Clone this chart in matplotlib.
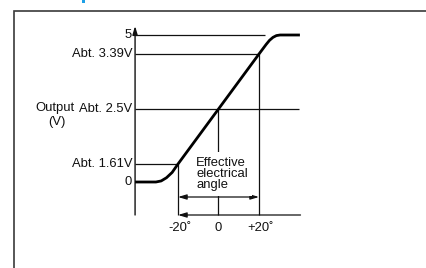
import numpy as np
import matplotlib
matplotlib.use("Agg")
import matplotlib.pyplot as plt
from matplotlib.patches import Rectangle

plt.rcParams['font.family'] = ['Liberation Sans', 'DejaVu Sans']

# ---- data ----
level_values = [5, 3.39, 2.5, 1.61, 0]
level_labels = ["5", "Abt. 3.39V", "Abt. 2.5V", "Abt. 1.61V", "0"]
angle_ticks = [-20, 0, 20]
angle_labels = ["-20˚", "0", "+20˚"]
# output curve (angle in degrees, output in volts)
curve_angle = [-41.2, -30.9, -28.3, -25.7, -22.9, -20, 0, 20, 23.5, 25.2, 26.9, 28.6, 30.4, 40.2]
curve_volt = [0, 0, 0.095, 0.38, 0.855, 1.61, 2.5, 3.39, 4.195, 4.55, 4.80, 4.95, 5, 5]
# ---- layout (schematic) ----
volt_knots = [-100, 0, 1.61, 2.5, 3.39, 5, 100]
pos_knots = [86 - 1000, 86, 104, 159, 214, 233, 233 + 950]
level_line_end = [23, 20, 39.75, -20, None]
yaxis_x = -41.2
yaxis_top = 5.9
baseline_v = -3.3
arrow_v = -1.5
baseline_end = 40.5


def fwd(v):
    return np.interp(v, volt_knots, pos_knots)


def inv(s):
    return np.interp(s, pos_knots, volt_knots)


fig = plt.figure(figsize=(4.27, 2.68), dpi=100)
ax = fig.add_axes([0, 0, 1, 1])
ax.set_yscale('function', functions=(fwd, inv))
ax.set_xlim(-218.5 / 2.025, (427 - 218.5) / 2.025)
ax.set_ylim(inv(0), inv(268))
ax.axis('off')

lc = '#111111'
fs = 9.4

# frame
fig.patches.append(Rectangle((14 / 427, -0.1), 1.2, 1 - 11 / 268 + 0.1,
                             transform=fig.transFigure, fill=False,
                             edgecolor='#3a3a3a', lw=1.2))
fig.patches.append(Rectangle((82 / 427, 1 - 2.5 / 268), 3 / 427, 3 / 268,
                             transform=fig.transFigure, color='#1ea0e6', lw=0))

# y axis with arrow
ax.annotate('', xy=(yaxis_x, yaxis_top), xytext=(yaxis_x, baseline_v),
            arrowprops=dict(arrowstyle='-|>,head_length=0.5,head_width=0.15',
                            color=lc, lw=1.0, shrinkA=0, shrinkB=0))

# level lines and labels
for v, lab, end in zip(level_values, level_labels, level_line_end):
    if end is not None:
        ax.plot([yaxis_x, end], [v, v], color=lc, lw=0.9, solid_capstyle='butt')
    ax.annotate(lab, xy=(yaxis_x, v), xytext=(-3, 0), textcoords='offset pixels',
                ha='right', va='center', fontsize=fs, color=lc)

ax.annotate("Output", xy=(yaxis_x, 2.5), xytext=(-100, 1), textcoords='offset pixels',
            ha='left', va='center', fontsize=fs, color=lc)
ax.annotate("(V)", xy=(yaxis_x, 2.5), xytext=(-87, -13), textcoords='offset pixels',
            ha='left', va='center', fontsize=fs, color=lc)

# vertical lines at angle ticks
for a, v in zip(angle_ticks, [1.61, 2.5, 3.39]):
    ax.plot([a, a], [v, baseline_v], color=lc, lw=0.9, solid_capstyle='butt')

# baseline with left arrow
ax.annotate('', xy=(angle_ticks[0], baseline_v), xytext=(baseline_end, baseline_v),
            arrowprops=dict(arrowstyle='-|>,head_length=0.5,head_width=0.15',
                            color=lc, lw=0.9, shrinkA=0, shrinkB=0))
# double arrow
ax.annotate('', xy=(angle_ticks[0], arrow_v), xytext=(angle_ticks[2], arrow_v),
            arrowprops=dict(arrowstyle='<|-|>,head_length=0.5,head_width=0.15',
                            color=lc, lw=0.9, shrinkA=0, shrinkB=0))

# effective electrical angle text
ax.text(-11.1, inv(268 - 174), "Effective\nelectrical\nangle", ha='left', va='center',
        fontsize=fs, color=lc, linespacing=0.92,
        bbox=dict(boxstyle='square,pad=0.35', fc='white', ec='none'), zorder=5)

# angle tick labels
for a, lab in zip(angle_ticks, angle_labels):
    off = 2 if '˚' in lab else 0
    ax.annotate(lab, xy=(a, baseline_v), xytext=(off, -13), textcoords='offset pixels',
                ha='center', va='center', fontsize=fs, color=lc)

# output curve
ax.plot(curve_angle, curve_volt, color='black', lw=2.0, solid_joinstyle='round',
        solid_capstyle='butt', zorder=6)

fig.savefig('out.png', dpi=100)
